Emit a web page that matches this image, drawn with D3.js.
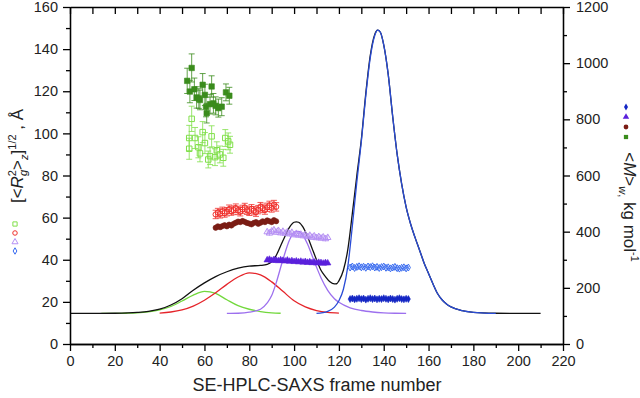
<!DOCTYPE html>
<html lang="en">
<head>
<meta charset="UTF-8">
<script src="https://d3js.org/d3.v7.min.js"></script>
<style>
    body { margin: 0; background: #fff; }
    text { font-family: "Liberation Sans", Arial, sans-serif; }
    .axis path, .axis line { stroke: #000; stroke-width: 1.3; }
    .axis text { font-size: 14.5px; fill: #222; }
    .curve { fill: none; stroke-width: 1.3; }
</style>
</head>
<body>
<div id="container"></div>
<script>
    // ---- data ----
    // fitted curves, frame number vs intensity (plotted on left axis scale)
    var totalX = [0,10,20,30,35,40,45,50,55,60,65,70,75,80,85,88,90,92,95,98,100,101,102,104,106,108,110,112,114,116,118,119,120,122,124,126,128,130,132,134,136,137.3,138.5,140,142,144,146,148,150,152,154,156,158,160,162,164,166,168,170,175,180,190,200,210];
    var totalY = [14.5,14.5,14.6,15,15.5,16.5,18.5,21.5,25.5,29,32,34.3,36,37,37.3,37.8,39,42,49,55.5,57.8,58,57.8,55.5,51,45.5,40,35,32,29.5,28.5,28.6,30,35,45,62,80,97,119,137,147,149,148,142,128,108,90,76,65,57,50.5,44.5,38.5,33.5,28.5,24,21,19,17.6,15.8,15,14.6,14.5,14.5];

    var greenX = [14,20,25,30,35,40,45,50,55,60,65,70,75,80,85,90,94];
    var greenY = [14.5,14.5,14.6,14.8,15.3,16.2,17.8,20.4,23.2,25,24,21,18.2,16.5,15.4,14.8,14.6];

    var redX = [40,45,50,55,60,65,70,75,80,85,90,95,100,105,110,115,120];
    var redY = [14.7,15.2,16.2,18,20.8,24.3,28.3,31.8,33.8,32.8,29.5,25,20.5,17.6,15.9,15,14.7];

    var purpleX = [70,75,80,85,88,90,92,95,98,100,102,104,106,108,110,112,115,118,120,125,130,135,140,145,150];
    var purpleY = [14.5,14.6,15.1,16.5,19.5,23,29,40,49.5,53,53.5,51.5,47.5,42,36.5,31.5,25.5,21.5,19.8,17.2,15.9,15.2,14.8,14.6,14.5];

    var blueX = [110,115,118,120,122,124,126,128,130,132,134,136,137.3,138.5,140,142,144,146,148,150,152,154,156,158,160,162,164,166,168,170,175,180,185,190];
    var blueY = [14.5,15.5,17.5,20.5,26,37,56,77,96,118,136,146.5,149,148,142,128,108,90,76,65,57,50.5,44.5,38.5,33.5,28.5,24,21,19,17.6,15.8,15,14.7,14.5];

    // Rg (left axis, open symbols)
    var rgGreenX = [53.2,53.2,54.3,55.8,57.3,58,59.2,60.2,61.7,62.5,63.2,64.7,65.5,66.9,68.4,69.3,70.6,71.4];
    var rgGreenY = [97.8,92.7,106.9,97.8,93.4,90.5,100.6,95.4,87.6,89.2,98.6,88.7,92,90,88.4,97.8,96.2,94.6];
    var rgGreenErr = [6,5,6,5,5,4,5,5,4,4,5,4,4,4,4,4,4,4];

    var rgRedX = [65,66,67,68,69,70,71,72,73,74,75,76,77,78,79,80,81,82,83,84,85,86,87,88,89,90,91,92];
    var rgRedY = [61.5,62.4,61.8,63,62.2,62.8,64,63.1,63.6,64.5,63.4,62.8,63.9,64.8,63.5,63,64.2,63.3,62.6,63.8,65.2,64.4,63.6,64.9,65.8,64.6,66.2,65.1];
    var rgRedErr = 2;

    var rgPurpleX = [88,89,90,91,92,93,94,95,96,97,98,99,100,101,102,103,104,105,106,107,108,109,110,111,112,113,114,115];
    var rgPurpleY = [53.2,52.6,53.5,54.1,53,53.8,52.7,53.4,52.5,53.1,52.2,52.9,51.8,52.4,51.6,52,51.3,51.8,50.9,51.5,50.6,51.2,50.4,50.9,50.2,50.7,49.9,50.5];
    var rgPurpleErr = 1.2;

    var rgBlueX = [125,126,127,128,129,130,131,132,133,134,135,136,137,138,139,140,141,142,143,144,145,146,147,148,149,150,151];
    var rgBlueY = [36.3,36.8,36.1,36.6,36.9,36.4,36.7,36.2,36.8,36.5,36.9,36.3,36.6,36.1,36.5,36.8,36.2,36.4,35.9,36.3,36.6,36,35.8,36.2,36.4,35.9,36.3];
    var rgBlueErr = 0.6;

    // Mw (right axis, filled symbols), kg/mol
    var mwGreenX = [52.3,53.5,54.3,55.5,56.5,57.5,58,59.2,60.2,60.7,61,62.5,63.2,64,65,66.2,67.7,69.6,71.1];
    var mwGreenY = [937,899,983,907,878,874,869,923,887,844,822,854,917,857,848,840,845,896,884];
    var mwGreenErr = [45,40,50,40,38,35,35,40,38,35,35,35,38,35,32,32,32,30,30];

    var mwRedX = [65,66,67,68,69,70,71,72,73,74,75,76,77,78,79,80,81,82,83,84,85,86,87,88,89,90,91,92];
    var mwRedY = [414,419,416,420,423,419,425,422,428,432,436,434,438,435,431,429,426,431,434,428,432,437,434,440,437,434,441,437];
    var mwRedErr = 8;

    var mwPurpleX = [88,89,90,91,92,93,94,95,96,97,98,99,100,101,102,103,104,105,106,107,108,109,110,111,112,113,114,115];
    var mwPurpleY = [299,301,297,300,298,296,299,297,295,298,294,296,293,295,292,294,291,293,290,292,289,291,288,290,289,287,289,288];
    var mwPurpleErr = 5;

    var mwBlueX = [125,126,127,128,129,130,131,132,133,134,135,136,137,138,139,140,141,142,143,144,145,146,147,148,149,150,151];
    var mwBlueY = [160,162,159,161,163,160,162,158,161,163,160,162,159,161,160,163,161,159,162,160,158,161,163,160,159,161,160];
    var mwBlueErr = 3;

    // ---- layout ----
    var svg_width = 640, svg_height = 398;
    var plot = {left: 70, right: 563, top: 7, bottom: 344};

    var svg = d3.select("#container").append("svg")
        .attr("width", svg_width).attr("height", svg_height);

    var x = d3.scaleLinear().domain([0, 220]).range([plot.left, plot.right]);
    var yL = d3.scaleLinear().domain([0, 160]).range([plot.bottom, plot.top]);
    var yR = d3.scaleLinear().domain([0, 1200]).range([plot.bottom, plot.top]);

    // ---- curves ----
    function drawCurve(xs, ys, color) {
        var line = d3.line()
            .x(function(d, i) { return x(xs[i]); })
            .y(function(d) { return yL(d); })
            .curve(d3.curveMonotoneX);
        svg.append("path").attr("class", "curve")
            .attr("d", line(ys)).attr("stroke", color);
    }
    drawCurve(greenX, greenY, "#72d83c");
    drawCurve(redX, redY, "#e5242a");
    drawCurve(purpleX, purpleY, "#9d70ee");
    drawCurve(totalX, totalY, "#111");
    drawCurve(blueX, blueY, "#2a4cd6");

    // ---- scatter with error bars ----
    function drawPoints(xs, ys, errs, yScale, type, size, color, open) {
        var g = svg.append("g");
        xs.forEach(function(xv, i) {
            var e = Array.isArray(errs) ? errs[i] : errs;
            var px = x(xv), y0 = yScale(ys[i] - e), y1 = yScale(ys[i] + e);
            g.append("line").attr("x1", px).attr("x2", px).attr("y1", y0).attr("y2", y1)
                .attr("stroke", color).attr("stroke-width", 0.8);
            if (e > 1.5 && yScale === yL || e > 10) {
                [y0, y1].forEach(function(yy) {
                    g.append("line").attr("x1", px - 3).attr("x2", px + 3).attr("y1", yy).attr("y2", yy)
                        .attr("stroke", color).attr("stroke-width", 0.8);
                });
            }
        });
        g.selectAll("path").data(ys).enter().append("path")
            .attr("transform", function(d, i) { return "translate(" + x(xs[i]) + "," + yScale(d) + ")"; })
            .attr("d", d3.symbol().type(type).size(size))
            .attr("fill", open ? "none" : color)
            .attr("stroke", color)
            .attr("stroke-width", open ? 1 : 0.6);
    }

    drawPoints(rgGreenX, rgGreenY, rgGreenErr, yL, d3.symbolSquare, 30, "#80e04a", true);
    drawPoints(mwGreenX, mwGreenY, mwGreenErr, yR, d3.symbolSquare, 30, "#3a8c1c", false);
    drawPoints(rgRedX, rgRedY, rgRedErr, yL, d3.symbolCircle, 22, "#f0302c", true);
    drawPoints(mwRedX, mwRedY, mwRedErr, yR, d3.symbolCircle, 22, "#7a1c14", false);
    drawPoints(rgPurpleX, rgPurpleY, rgPurpleErr, yL, d3.symbolTriangle, 18, "#b690f4", true);
    drawPoints(mwPurpleX, mwPurpleY, mwPurpleErr, yR, d3.symbolTriangle, 18, "#5a20dc", false);
    drawPoints(rgBlueX, rgBlueY, rgBlueErr, yL, d3.symbolDiamond, 14, "#3a6cf0", true);
    drawPoints(mwBlueX, mwBlueY, mwBlueErr, yR, d3.symbolDiamond, 14, "#1426c4", false);

    // ---- axes ----
    function addAxis(axis, tx, ty) {
        var g = svg.append("g").attr("class", "axis")
            .attr("transform", "translate(" + tx + "," + ty + ")").call(axis);
        return g;
    }
    addAxis(d3.axisBottom(x).tickValues(d3.range(0, 221, 20)).tickSize(7).tickPadding(5).tickSizeOuter(0), 0, plot.bottom);
    addAxis(d3.axisBottom(x).tickValues(d3.range(10, 220, 20)).tickSize(4).tickFormat("").tickSizeOuter(0), 0, plot.bottom);
    addAxis(d3.axisBottom(x).tickValues(d3.range(0, 221, 10)).tickSize(7).tickFormat("").tickSizeOuter(0), 0, plot.top);
    addAxis(d3.axisLeft(yL).tickValues(d3.range(0, 161, 20)).tickSize(7).tickPadding(5).tickSizeOuter(0), plot.left, 0);
    addAxis(d3.axisLeft(yL).tickValues(d3.range(10, 160, 20)).tickSize(4).tickFormat("").tickSizeOuter(0), plot.left, 0);
    addAxis(d3.axisRight(yR).tickValues(d3.range(0, 1201, 200)).tickSize(7).tickPadding(6).tickFormat(d3.format("d")).tickSizeOuter(0), plot.right, 0);
    addAxis(d3.axisRight(yR).tickValues(d3.range(100, 1200, 200)).tickSize(4).tickFormat("").tickSizeOuter(0), plot.right, 0);

    // ---- axis titles ----
    svg.append("text").attr("x", 317).attr("y", 391).attr("text-anchor", "middle")
        .style("font-size", "18px").attr("fill", "#222").text("SE-HPLC-SAXS frame number");

    var lt = svg.append("text").attr("text-anchor", "middle")
        .attr("transform", "translate(23,156) rotate(-90)")
        .style("font-size", "17px").attr("fill", "#222");
    lt.append("tspan").text("[<");
    lt.append("tspan").style("font-style", "italic").text("R");
    lt.append("tspan").attr("dy", -7).style("font-size", "11px").text("2");
    lt.append("tspan").attr("dx", -6).attr("dy", 11).style("font-size", "11px").style("font-style", "italic").text("g");
    lt.append("tspan").attr("dy", -4).text(">");
    lt.append("tspan").attr("dy", 5).style("font-size", "11px").style("font-style", "italic").text("z");
    lt.append("tspan").attr("dy", -5).text("]");
    lt.append("tspan").attr("dy", -7).style("font-size", "11px").text("1/2");
    lt.append("tspan").attr("dy", 7).text(" , Å");

    var rt = svg.append("text").attr("text-anchor", "middle")
        .attr("transform", "translate(624,207) rotate(90)")
        .style("font-size", "17px").attr("fill", "#222");
    rt.append("tspan").text("<");
    rt.append("tspan").style("font-style", "italic").text("M");
    rt.append("tspan").text(">");
    rt.append("tspan").attr("dy", 5).style("font-size", "11px").style("font-style", "italic").text("w");
    rt.append("tspan").style("font-size", "11px").text(",");
    rt.append("tspan").attr("dy", -5).text(" kg mol");
    rt.append("tspan").attr("dy", -7).style("font-size", "11px").text("-1");

    // ---- legend symbols next to axis titles ----
    var leftKeys = [
        {type: d3.symbolSquare, color: "#80e04a", size: 18},
        {type: d3.symbolCircle, color: "#f0302c", size: 16},
        {type: d3.symbolTriangle, color: "#b690f4", size: 16},
        {type: d3.symbolDiamond, color: "#3a6cf0", size: 12}
    ];
    var rightKeys = [
        {type: d3.symbolDiamond, color: "#1426c4", size: 14},
        {type: d3.symbolTriangle, color: "#5a20dc", size: 18},
        {type: d3.symbolCircle, color: "#7a1c14", size: 18},
        {type: d3.symbolSquare, color: "#3a8c1c", size: 18}
    ];
    leftKeys.forEach(function(k, i) {
        svg.append("path").attr("transform", "translate(15," + (224 + i * 9) + ")")
            .attr("d", d3.symbol().type(k.type).size(k.size))
            .attr("fill", "none").attr("stroke", k.color).attr("stroke-width", 1);
    });
    rightKeys.forEach(function(k, i) {
        svg.append("path").attr("transform", "translate(626," + (107 + i * 10) + ")")
            .attr("d", d3.symbol().type(k.type).size(k.size))
            .attr("fill", k.color);
    });
</script>
</body>
</html>
